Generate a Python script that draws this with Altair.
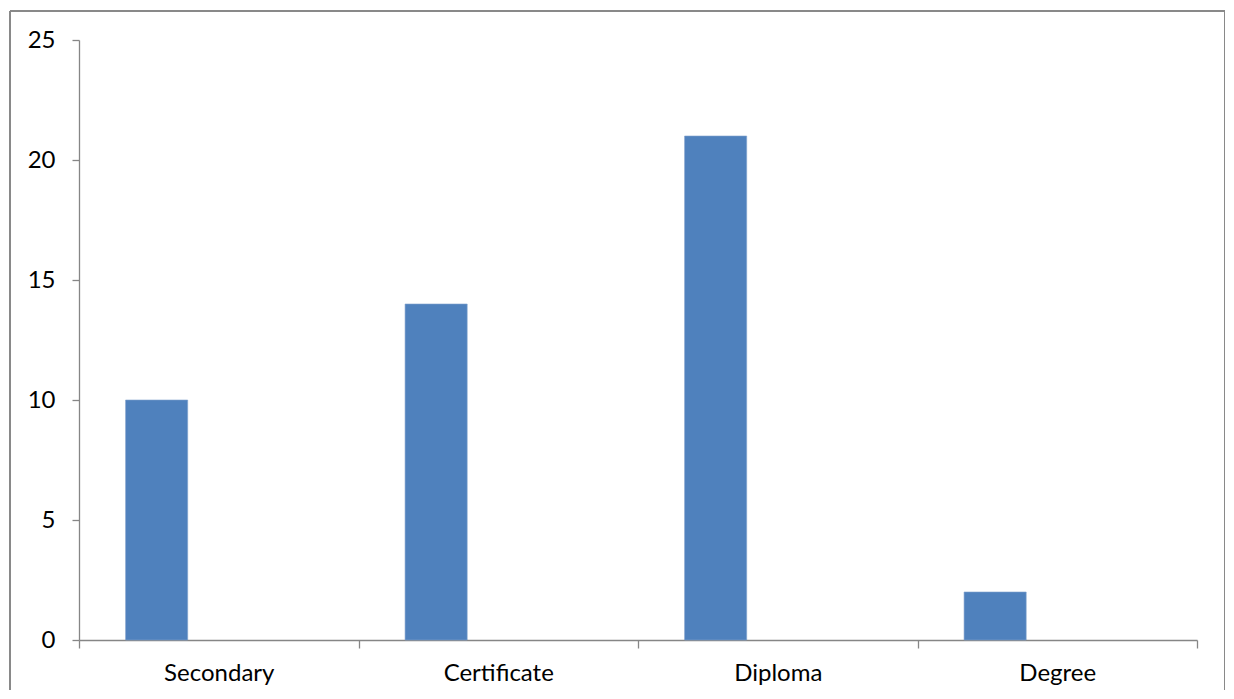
import altair as alt
import pandas as pd

categories = ["Secondary", "Certificate", "Diploma", "Degree"]
values = [10, 14, 21, 2]
series_slots = ["Series1", "Series2", "Series3"]

df = pd.DataFrame({"category": categories, "value": values, "series": ["Series1"] * len(categories)})

W, H = 1118, 600
AXIS = "#868686"
FONT = "Lato"

bars = alt.Chart(df).mark_bar(color="#4F81BD", stroke="#7FA1CC", strokeWidth=0.6).encode(
    x=alt.X("category:N", sort=categories,
            scale=alt.Scale(paddingInner=0, paddingOuter=0),
            axis=alt.Axis(title=None, labelAngle=0, tickBand="extent", tickSize=8,
                          labelPadding=13, domainColor=AXIS, tickColor=AXIS,
                          domainWidth=1.3, tickWidth=1.3, labelFontSize=24,
                          labelFont=FONT, labelColor="#000000")),
    xOffset=alt.XOffset("series:N", scale=alt.Scale(domain=series_slots, paddingOuter=0.75, paddingInner=0)),
    y=alt.Y("value:Q", scale=alt.Scale(domain=[0, 25], nice=False),
            axis=alt.Axis(title=None, values=[0, 5, 10, 15, 20, 25], grid=False, tickSize=7,
                          labelPadding=17, domainColor=AXIS, tickColor=AXIS,
                          domainWidth=1.3, tickWidth=1.3, labelFontSize=24,
                          labelFont=FONT, labelColor="#000000")),
)

BORDER = "#898989"
left_edge = alt.Chart(df).mark_rule(color=BORDER, strokeWidth=1.5).encode(
    x=alt.value(-69), y=alt.value(-29), y2=alt.value(H + 60))
right_edge = alt.Chart(df).mark_rule(color=BORDER, strokeWidth=1.5).encode(
    x=alt.value(1146), y=alt.value(-29), y2=alt.value(H + 60))
top_edge = alt.Chart(df).mark_rule(color=BORDER, strokeWidth=1.5).encode(
    x=alt.value(-69), x2=alt.value(1146), y=alt.value(-29))

chart = alt.layer(bars, left_edge, right_edge, top_edge).properties(
    width=W, height=H,
    autosize=alt.AutoSizeParams(type="none"),
    padding={"left": 71, "top": 32, "right": 28, "bottom": 50},
).configure_view(stroke=None)

chart.save("out.html", embed_options={"renderer": "svg", "actions": False})
